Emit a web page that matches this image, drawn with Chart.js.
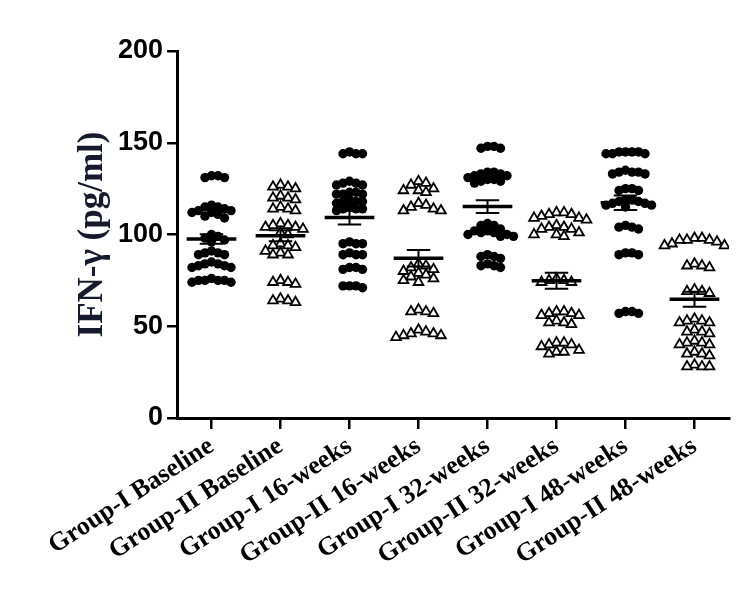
<!DOCTYPE html>
<html>
<head>
<meta charset="utf-8">
<script src="https://cdn.jsdelivr.net/npm/chart.js@4.4.1/dist/chart.umd.min.js"></script>
<style>
  html, body { margin: 0; padding: 0; background: #fff; }
  canvas { display: block; }
</style>
</head>
<body>
<canvas id="chart" width="750" height="604"></canvas>
<script>
const groupLabels = [
  "Group-I Baseline", "Group-II Baseline", "Group-I 16-weeks", "Group-II 16-weeks",
  "Group-I 32-weeks", "Group-II 32-weeks", "Group-I 48-weeks", "Group-II 48-weeks"
];
const yTicks = [0, 50, 100, 150, 200];

// values, one array per group
const g1Baseline = [132, 131, 131, 132, 116, 115, 115, 114, 113, 113, 112, 112, 111, 110, 109,
  100, 99, 98, 97, 96, 91, 90, 90, 89, 89, 85, 84, 84, 83, 83, 82, 82, 76, 75, 75, 75, 75, 74, 74];
const g2Baseline = [127, 126, 126, 125, 121, 120, 120, 119, 115, 114, 114, 113, 106, 105, 105, 104,
  104, 103, 101, 100, 95, 94, 94, 93, 91, 90, 89, 89, 75, 74, 74, 73, 65, 64, 64, 63];
const g1Week16 = [145, 144, 144, 144, 129, 128, 128, 127, 127, 123, 123, 122, 122, 122, 119, 118,
  118, 118, 117, 115, 114, 114, 114, 113, 96, 95, 95, 95, 90, 89, 89, 89, 82, 82, 81, 81, 72, 72, 72, 71];
const g2Week16 = [129, 128, 127, 125, 124, 124, 123, 117, 116, 115, 114, 113, 113, 84, 83, 82, 81,
  80, 79, 78, 77, 76, 75, 74, 59, 58, 58, 57, 48, 47, 46, 46, 45, 45, 44];
const g1Week32 = [148, 148, 147, 147, 134, 134, 133, 133, 132, 132, 131, 130, 130, 129, 129, 128,
  106, 105, 105, 103, 102, 102, 101, 101, 100, 100, 99, 99, 89, 88, 88, 87, 84, 83, 83, 82];
const g2Week32 = [112, 112, 111, 111, 110, 109, 109, 108, 105, 104, 104, 103, 103, 101, 100, 100, 99,
  76, 75, 75, 74, 74, 58, 58, 57, 57, 56, 56, 53, 52, 52, 51, 41, 41, 40, 40, 39, 37, 36, 36, 35];
const g1Week48 = [145, 145, 145, 145, 144, 144, 144, 135, 134, 134, 134, 133, 133, 125, 125, 124, 124,
  119, 119, 118, 118, 117, 117, 116, 116, 115, 105, 104, 104, 103, 90, 90, 89, 89, 58, 58, 57, 57];
const g2Week48 = [98, 98, 97, 97, 97, 96, 95, 94, 94, 84, 83, 83, 82, 70, 69, 69, 68, 54, 53, 53, 52,
  52, 48, 47, 47, 46, 42, 41, 41, 40, 40, 36, 35, 35, 34, 29, 28, 28, 28];

const groupValues = [g1Baseline, g2Baseline, g1Week16, g2Week16, g1Week32, g2Week32, g1Week48, g2Week48];

// mean and SEM bars as drawn in the picture
const groupMeans = [97.5, 99.3, 109.2, 87.0, 115.2, 74.8, 117.3, 64.7];
const groupSems = [2.6, 3.0, 3.7, 4.5, 3.5, 4.3, 3.9, 4.1];

// spread points sideways so they do not pile up (rough px per unit of each axis)
const PX_X = 69;
const PX_Y = 1.835;

function spread(values, center, size) {
  const placed = [];
  const sorted = values.slice().sort((a, b) => b - a);
  sorted.forEach((v) => {
    let k = 0;
    while (true) {
      const step = Math.ceil(k / 2) * (k % 2 === 1 ? 1 : -1);
      const dx = step * size;
      const ok = placed.every((p) => {
        const ddx = p.dxPx - dx;
        const ddy = (p.y - v) * PX_Y;
        return Math.sqrt(ddx * ddx + ddy * ddy) >= size;
      });
      if (ok) {
        placed.push({ dxPx: dx, y: v });
        break;
      }
      k++;
    }
  });
  return placed.map((p) => ({ x: center + p.dxPx / PX_X, y: p.y }));
}

const datasets = groupValues.map((vals, i) => {
  const isGroupTwo = i % 2 === 1;
  return {
    label: groupLabels[i],
    data: spread(vals, i + 1, isGroupTwo ? 7.5 : 6.5),
    pointStyle: isGroupTwo ? "triangle" : "circle",
    pointRadius: isGroupTwo ? 5.6 : 4.7,
    pointBorderWidth: isGroupTwo ? 1.8 : 0,
    pointBackgroundColor: isGroupTwo ? "#ffffff" : "#000000",
    pointBorderColor: "#000000",
  };
});

const meanBars = {
  id: "meanBars",
  afterDatasetsDraw(chart) {
    const { ctx, scales } = chart;
    ctx.save();
    ctx.strokeStyle = "#000";
    groupMeans.forEach((m, i) => {
      const cx = i + 1;
      const yMean = scales.y.getPixelForValue(m);
      const yHi = scales.y.getPixelForValue(m + groupSems[i]);
      const yLo = scales.y.getPixelForValue(m - groupSems[i]);
      const xc = scales.x.getPixelForValue(cx);
      ctx.lineWidth = 3.5;
      ctx.beginPath();
      ctx.moveTo(scales.x.getPixelForValue(cx - 0.36), yMean);
      ctx.lineTo(scales.x.getPixelForValue(cx + 0.36), yMean);
      ctx.stroke();
      ctx.lineWidth = 2;
      ctx.beginPath();
      ctx.moveTo(xc, yHi);
      ctx.lineTo(xc, yLo);
      ctx.moveTo(scales.x.getPixelForValue(cx - 0.17), yHi);
      ctx.lineTo(scales.x.getPixelForValue(cx + 0.17), yHi);
      ctx.moveTo(scales.x.getPixelForValue(cx - 0.17), yLo);
      ctx.lineTo(scales.x.getPixelForValue(cx + 0.17), yLo);
      ctx.stroke();
    });
    ctx.restore();
  },
};

const ctx = document.getElementById("chart").getContext("2d");

new Chart(ctx, {
  type: "scatter",
  data: { datasets: datasets },
  options: {
    responsive: false,
    animation: false,
    devicePixelRatio: 1,
    layout: { padding: { top: 51, right: 21, left: 68, bottom: 0 } },
    plugins: { legend: { display: false }, tooltip: { enabled: false } },
    scales: {
      x: {
        type: "linear",
        min: 0.5,
        max: 8.5,
        afterBuildTicks: (scale) => {
          scale.ticks = groupLabels.map((_, i) => ({ value: i + 1 }));
        },
        afterFit: (scale) => { scale.height = 186; },
        ticks: {
          autoSkip: false,
          minRotation: 33,
          maxRotation: 33,
          padding: 2,
          color: "#000",
          font: { family: "'Liberation Serif', 'Times New Roman', serif", size: 26, weight: "bold" },
          callback: (v) => groupLabels[Math.round(v) - 1] || "",
        },
        grid: { drawOnChartArea: false, drawTicks: true, tickLength: 11, color: "#000", lineWidth: 2.5 },
        border: { display: true, color: "#000", width: 3 },
      },
      y: {
        min: 0,
        max: 200,
        afterBuildTicks: (scale) => {
          scale.ticks = yTicks.map((v) => ({ value: v }));
        },
        afterFit: (scale) => { scale.width = 109; },
        ticks: {
          padding: 4,
          color: "#000",
          font: { family: "'Liberation Sans', Arial, sans-serif", size: 27, weight: "bold" },
        },
        grid: { drawOnChartArea: false, drawTicks: true, tickLength: 10, color: "#000", lineWidth: 2.5 },
        border: { display: true, color: "#000", width: 3 },
        title: {
          display: true,
          text: "IFN-γ (pg/ml)",
          color: "#151a2c",
          font: { family: "'Liberation Serif', 'Times New Roman', serif", size: 35, weight: "bold" },
          padding: { top: 4, bottom: 4 },
        },
      },
    },
  },
  plugins: [meanBars],
});
</script>
</body>
</html>
